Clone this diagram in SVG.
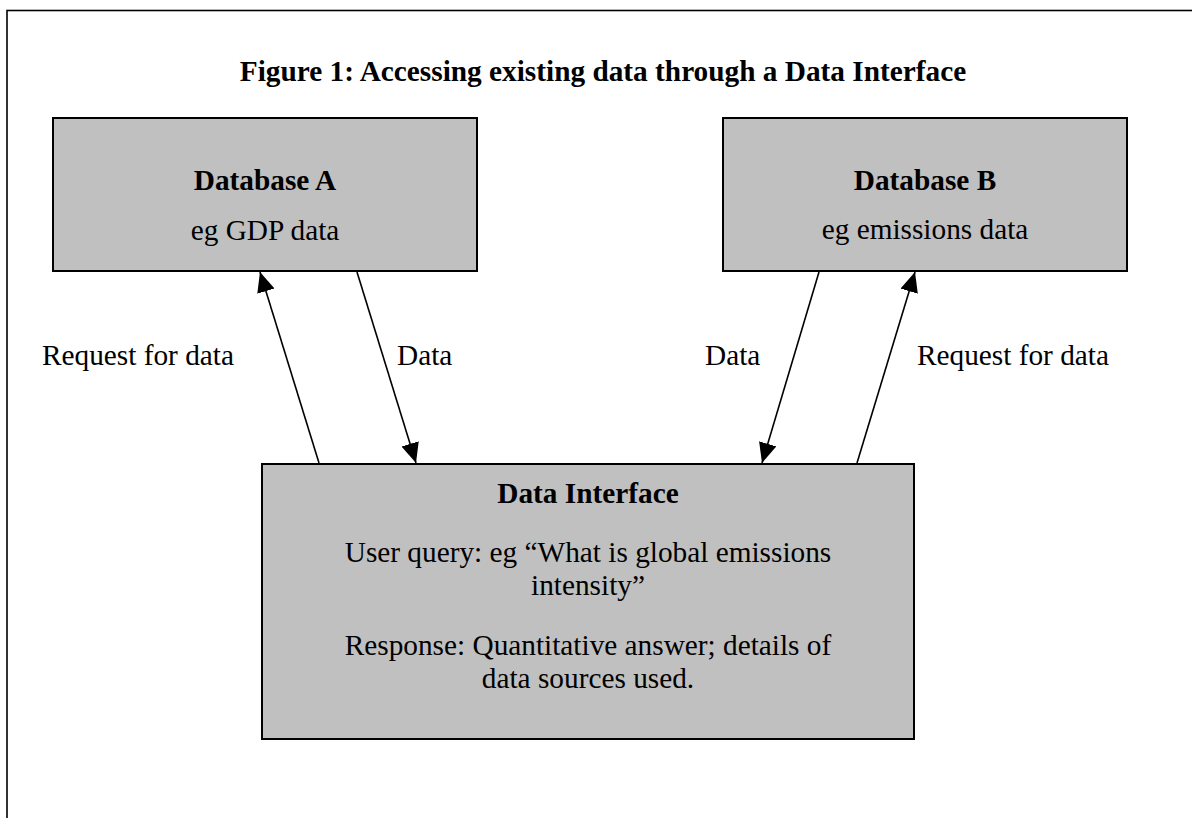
<svg xmlns="http://www.w3.org/2000/svg" width="1192" height="818" viewBox="0 0 1192 818">
<style>
text{font-family:"Liberation Serif","Times New Roman",serif;font-size:29.3px;fill:#000}
.b{font-weight:bold}
.c{text-anchor:middle}
.box{fill:#c0c0c0;stroke:#000;stroke-width:2}
.conn line{stroke:#000;stroke-width:1.6}
</style>
<defs>
<marker id="ah" markerUnits="userSpaceOnUse" markerWidth="22" markerHeight="20" refX="20" refY="9" orient="auto">
<path d="M0,0 L20,9 L0,18 z" fill="#000"/>
</marker>
</defs>
<rect width="1192" height="818" fill="#fff"/>
<rect x="7" y="10.5" width="1210" height="830" fill="none" stroke="#000" stroke-width="1.6"/>
<text id="title" class="b c" x="603" y="81">Figure 1: Accessing existing data through a Data Interface</text>
<g id="dbA">
<rect class="box" x="53" y="118" width="424" height="153"/>
<text class="b c" x="265" y="190">Database A</text>
<text class="c" x="265" y="240">eg GDP data</text>
</g>
<g id="dbB">
<rect class="box" x="723" y="118" width="404" height="153"/>
<text class="b c" x="925" y="190">Database B</text>
<text class="c" x="925" y="239">eg emissions data</text>
</g>
<g id="iface">
<rect class="box" x="262" y="464" width="652" height="275"/>
<text class="b c" x="588" y="503">Data Interface</text>
<text class="c" x="588" y="562">User query: eg “What is global emissions</text>
<text class="c" x="588" y="595">intensity”</text>
<text class="c" x="588" y="655">Response: Quantitative answer; details of</text>
<text class="c" x="588" y="688">data sources used.</text>
</g>
<g id="connectors" class="conn">
<line x1="319" y1="463" x2="260" y2="272" marker-end="url(#ah)"/>
<line x1="357" y1="272" x2="416" y2="463" marker-end="url(#ah)"/>
<line x1="819" y1="272" x2="762" y2="463" marker-end="url(#ah)"/>
<line x1="857" y1="463" x2="915" y2="272" marker-end="url(#ah)"/>
</g>
<g id="labels">
<text x="42" y="365">Request for data</text>
<text x="397" y="365">Data</text>
<text x="705" y="365">Data</text>
<text x="917" y="365">Request for data</text>
</g>
</svg>
